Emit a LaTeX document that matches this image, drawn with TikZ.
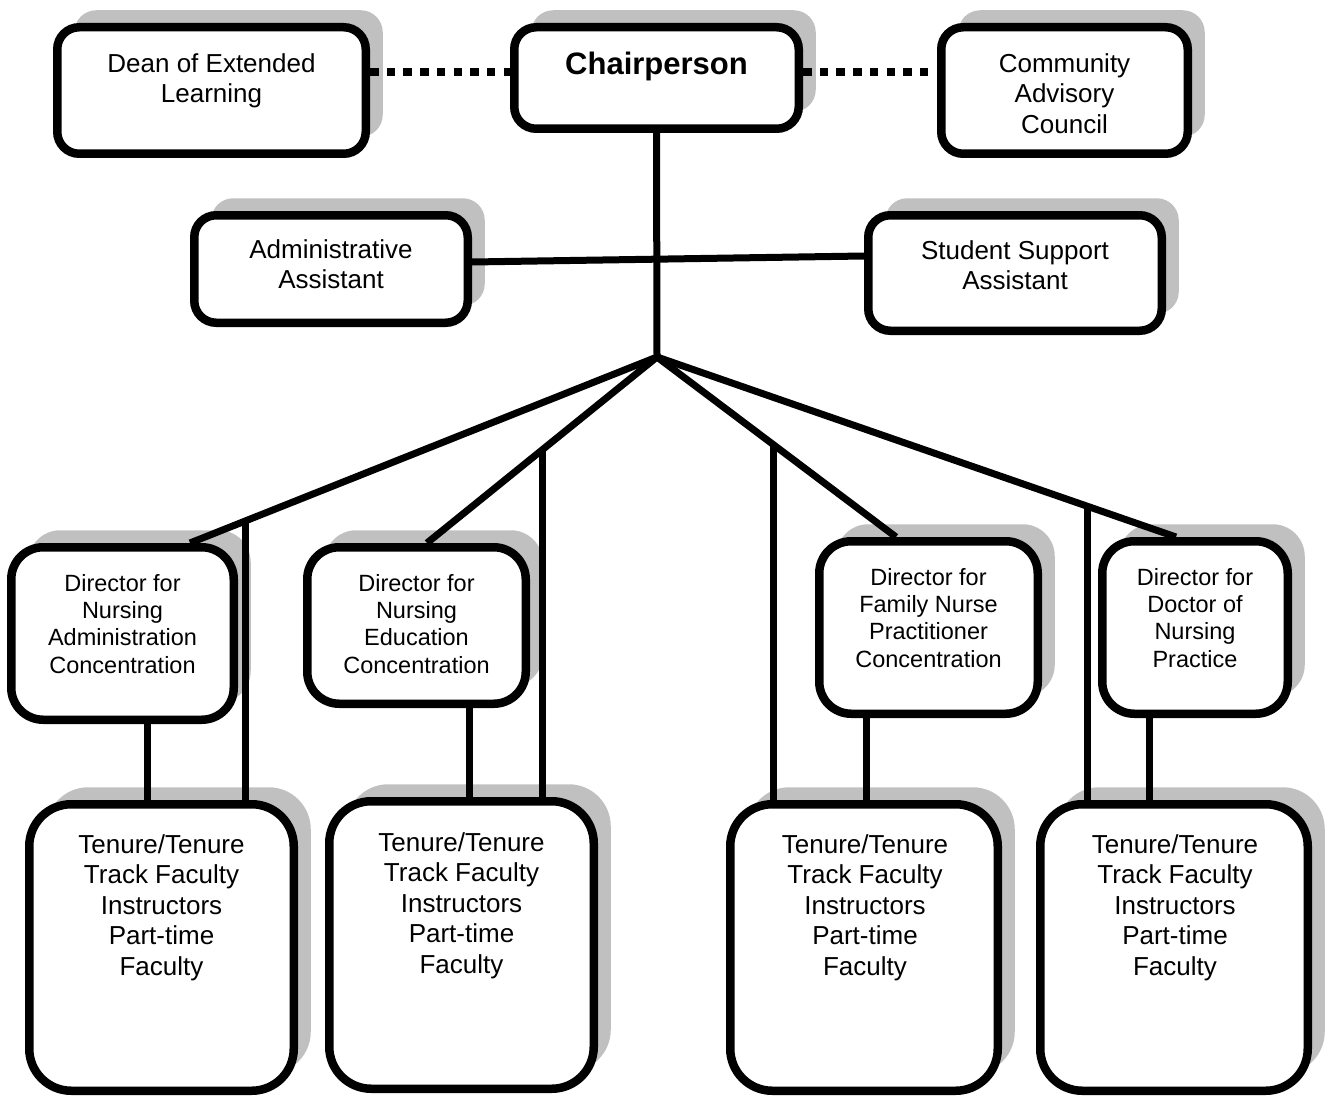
\documentclass[tikz,border=0pt]{standalone}
\usepackage{fontspec}
\setmainfont{Liberation Sans}
\usetikzlibrary{shadows,calc}
\definecolor{shade}{RGB}{192,192,192}
\tikzset{
  box/.style={draw=black, line width=8.5pt, fill=white, inner sep=0pt,
    rounded corners=#1,
    drop shadow={shadow xshift=17pt, shadow yshift=17pt, fill=shade, opacity=1}},
  lbl/.style={inner sep=0pt, anchor=north, align=center,
    font=\fontsize{26}{30.5}\selectfont},
  dirlbl/.style={inner sep=0pt, anchor=north, align=center,
    font=\fontsize{23.5}{27.3}\selectfont},
  headlbl/.style={inner sep=0pt, anchor=north, align=center,
    font=\fontsize{31}{36}\selectfont\bfseries},
  link/.style={line width=7pt},
  dots/.style={line width=8pt, dash pattern=on 8.5pt off 8.2pt},
}
\begin{document}
\begin{tikzpicture}[x=1pt, y=-1pt]
\useasboundingbox (0,0) rectangle (1336,1097);

% top row
\node[box=22, minimum width=308.5, minimum height=126.5] (dean) at (211.5,90.5) {};
\node[box=22, minimum width=284.5, minimum height=101.5] (chair) at (656.5,78) {};
\node[box=22, minimum width=246.5, minimum height=126.5] (council) at (1064.5,90.5) {};
% assistants
\node[box=22, minimum width=273.5, minimum height=107.5] (admin) at (331,269) {};
\node[box=22, minimum width=293.5, minimum height=115.5] (student) at (1015,273) {};
% directors
\node[box=32, minimum width=222.5, minimum height=172.5] (dirA) at (122.5,633.5) {};
\node[box=32, minimum width=218.5, minimum height=156.5] (dirE) at (416.5,625.5) {};
\node[box=32, minimum width=218.5, minimum height=172.5] (dirF) at (928.5,627.5) {};
\node[box=32, minimum width=185.5, minimum height=172.5] (dirD) at (1195,627.5) {};
% faculty groups
\node[box=42, minimum width=264.5, minimum height=286.5] (tenA) at (161.5,947.5) {};
\node[box=42, minimum width=264.5, minimum height=287.5] (tenE) at (461.5,945) {};
\node[box=42, minimum width=267.5, minimum height=286.5] (tenF) at (864,947.5) {};
\node[box=42, minimum width=267.5, minimum height=286.5] (tenD) at (1174,947.5) {};

% texts
\node[lbl] (deanT) at (211.5,50.6) {\strut Dean of Extended\\Learning};
\node[headlbl] (chairT) at (656.5,48.8) {\strut Chairperson};
\node[lbl] (councilT) at (1064.5,50.6) {\strut Community\\Advisory\\Council};
\node[lbl] (adminT) at (331,236.6) {\strut Administrative\\Assistant};
\node[lbl] (studentT) at (1015,237.6) {\strut Student Support\\Assistant};
\node[dirlbl] (dirAT) at (122.5,571.9) {\strut Director for\\Nursing\\Administration\\Concentration};
\node[dirlbl] (dirET) at (416.5,571.9) {\strut Director for\\Nursing\\Education\\Concentration};
\node[dirlbl] (dirFT) at (928.5,565.9) {\strut Director for\\Family Nurse\\Practitioner\\Concentration};
\node[dirlbl] (dirDT) at (1195,565.9) {\strut Director for\\Doctor of\\Nursing\\Practice};
\foreach \n/\x/\y in {tenA/161.5/831.6, tenE/461.5/829.6, tenF/865/831.6, tenD/1175/831.6}{
  \node[lbl] (\n T) at (\x,\y) {\strut Tenure/Tenure\\Track Faculty\\Instructors\\Part-time\\Faculty};
}

% dotted advisory links
\draw[dots] ($(dean.east)+(0,-18.5)$) -- ($(chair.west)+(0,-6)$);
\draw[dots] ($(chair.east)+(0,-6)$) -- ($(council.west)+(0,-18.5)$);

% chair to hub and assistants
\coordinate (hub) at (657,357);
\draw[link] (chair.south) -- (hub);
\draw[link] ($(admin.east)+(0,-7)$) -- ($(student.west)+(0,-17)$);

% hub to directors
\coordinate (dA) at ($(dirA.north)+(67.5,0)$);
\coordinate (dE) at ($(dirE.north)+(10.5,0)$);
\coordinate (dF) at ($(dirF.north)+(-32.5,0)$);
\coordinate (dD) at ($(dirD.north)+(-19,0)$);
\draw[link, line join=round] (dA) -- (hub) -- (dD);
\draw[link, line join=round] (dE) -- (hub) -- (dF);

% hub branches straight to faculty groups
\coordinate (jA) at ($(hub)!0.8822!(dA)$);
\coordinate (jE) at ($(hub)!0.4957!(dE)$);
\coordinate (jF) at ($(hub)!0.4854!(dF)$);
\coordinate (jD) at ($(hub)!0.8304!(dD)$);
\draw[link] (jA) -- (jA |- tenA.north);
\draw[link] (jE) -- (jE |- tenE.north);
\draw[link] (jF) -- (jF |- tenF.north);
\draw[link] (jD) -- (jD |- tenD.north);

% directors to their faculty groups
\coordinate (sA) at ($(dirA.south)+(24.5,0)$);
\coordinate (sE) at ($(dirE.south)+(52.5,0)$);
\coordinate (sF) at ($(dirF.south)+(-62.5,0)$);
\coordinate (sD) at ($(dirD.south)+(-46,0)$);
\draw[link] (sA) -- (sA |- tenA.north);
\draw[link] (sE) -- (sE |- tenE.north);
\draw[link] (sF) -- (sF |- tenF.north);
\draw[link] (sD) -- (sD |- tenD.north);
\end{tikzpicture}
\end{document}
